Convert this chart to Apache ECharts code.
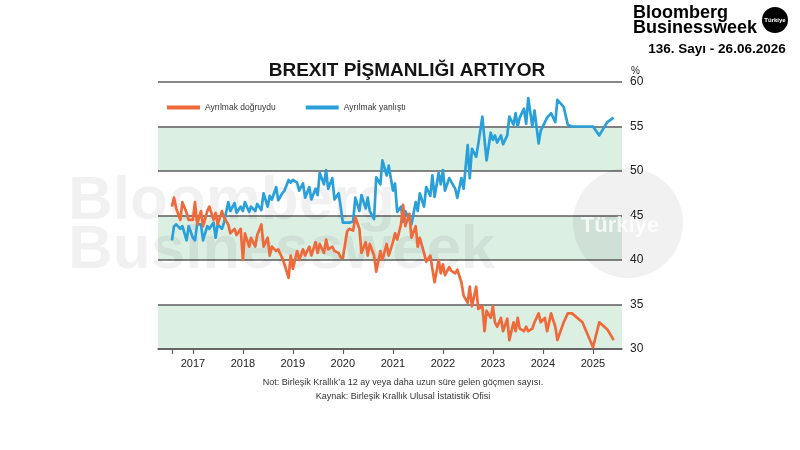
<!DOCTYPE html>
<html>
<head>
<meta charset="utf-8">
<script src="https://cdn.jsdelivr.net/npm/echarts@6/dist/echarts.min.js"></script>
<style>
html,body{margin:0;padding:0;background:#fff;}
#c{width:800px;height:450px;}
</style>
</head>
<body>
<div id="c"></div>
<script>
// ---- data ----
var dates = [
'2016-08-01','2016-08-16','2016-09-01','2016-10-01','2016-10-16','2016-11-16','2016-12-01',
'2017-01-01','2017-01-16','2017-02-01','2017-03-01','2017-03-16','2017-04-16','2017-05-01','2017-06-01','2017-06-16','2017-07-01','2017-08-01','2017-08-16','2017-09-16','2017-10-01','2017-11-01','2017-11-16','2017-12-16',
'2018-01-01','2018-01-16','2018-02-16','2018-03-01','2018-04-01','2018-04-16','2018-05-16','2018-06-01','2018-07-01','2018-07-16','2018-08-01','2018-09-01','2018-09-16','2018-10-16','2018-11-01','2018-12-01','2018-12-16',
'2019-01-01','2019-02-01','2019-02-16','2019-03-16','2019-04-01','2019-05-01','2019-05-16','2019-06-16','2019-07-01','2019-07-16','2019-08-16','2019-09-01','2019-09-16','2019-10-16','2019-11-01','2019-12-01','2019-12-16',
'2020-01-01','2020-02-01','2020-02-16','2020-03-16','2020-04-01','2020-05-01','2020-05-16','2020-06-16','2020-07-01','2020-07-16','2020-08-16','2020-09-01','2020-10-01','2020-10-16','2020-11-16','2020-12-01',
'2021-01-01','2021-01-16','2021-02-01','2021-03-01','2021-03-16','2021-04-01','2021-05-01','2021-05-16','2021-06-16','2021-07-01','2021-07-16','2021-08-16','2021-09-01','2021-10-01','2021-10-16','2021-11-01','2021-12-01','2021-12-16',
'2022-01-01','2022-01-16','2022-02-16','2022-03-01','2022-04-01','2022-04-16','2022-05-16','2022-06-01','2022-07-01','2022-07-16','2022-08-01','2022-09-01','2022-09-16','2022-10-16','2022-11-01','2022-11-16','2022-12-16',
'2023-01-01','2023-01-16','2023-02-01','2023-03-01','2023-03-16','2023-04-16','2023-05-01','2023-06-01','2023-06-16','2023-07-01','2023-07-16','2023-08-16','2023-09-01','2023-09-16','2023-10-16','2023-11-01','2023-12-01','2023-12-16',
'2024-01-16','2024-02-01','2024-03-01','2024-04-01','2024-04-16','2024-06-01','2024-07-01','2024-08-01','2024-10-16',
'2025-01-01','2025-02-16','2025-04-16','2025-06-01'
];
// "Ayrılmak doğruydu" (%)
var leaveRight = [
46.0,47.0,45.8,44.5,46.5,45.3,44.5,
44.5,46.5,44.0,45.5,43.8,45.5,46.0,44.5,45.3,44.0,45.5,44.8,44.0,43.0,43.5,42.8,43.5,
40.0,43.0,41.5,42.5,41.5,42.8,44.0,41.5,42.5,40.5,41.5,41.0,41.2,40.2,39.5,38.0,40.5,
39.0,41.0,40.0,41.2,40.5,41.5,40.5,42.0,40.8,41.8,40.8,42.3,41.2,41.5,41.0,40.8,40.3,
40.2,43.2,43.5,43.3,44.8,43.5,40.8,42.0,40.5,41.8,40.5,38.7,41.0,40.0,41.8,40.5,
42.0,43.0,42.3,44.0,46.2,43.8,45.2,42.5,43.8,41.5,42.5,40.8,39.8,40.5,39.0,37.5,40.0,38.5,
39.5,38.3,39.2,38.8,38.5,38.9,37.5,36.0,35.2,37.0,34.8,37.0,34.5,34.8,32.0,34.3,33.5,
34.8,33.0,32.5,33.5,32.0,33.4,31.0,33.0,32.0,33.5,32.3,32.0,32.5,32.0,32.3,33.0,34.0,33.0,
33.5,32.0,34.0,32.5,31.0,33.0,34.0,34.0,33.0,
30.2,33.0,32.2,31.0
];
// "Ayrılmak yanlıştı" (%)
var leaveWrong = [
42.2,43.8,44.0,43.5,43.8,42.2,43.8,
42.5,42.2,44.0,44.0,42.2,43.8,43.5,44.2,42.5,44.0,43.5,44.2,46.5,45.5,46.4,45.3,46.0,
45.5,46.5,45.4,46.0,45.5,46.3,45.6,47.5,46.0,47.2,46.8,48.2,46.7,47.5,47.8,49.0,48.7,
49.0,48.7,47.8,48.6,47.0,48.2,46.8,48.0,47.3,49.8,48.5,50.1,48.0,49.2,46.8,47.5,46.0,
44.2,44.2,44.2,44.3,47.0,45.5,47.3,45.8,47.0,45.5,44.6,49.3,48.5,51.2,49.5,50.6,
47.8,48.6,45.4,46.0,44.3,45.5,44.5,44.0,46.5,45.5,47.5,46.0,48.2,47.2,49.5,47.1,49.8,48.5,
50.1,47.8,49.2,49.2,48.0,47.0,49.2,48.0,52.9,49.2,52.5,51.6,53.0,56.1,53.5,51.2,54.3,
53.5,54.0,53.2,54.0,53.0,54.0,56.1,55.2,56.5,55.0,56.0,57.0,55.3,58.2,55.0,56.8,53.1,54.5,
55.5,56.0,56.5,55.5,58.0,57.2,55.2,55.0,55.0,
55.0,54.0,55.5,56.0
];
var seriesNames = ['Ayrılmak doğruydu', 'Ayrılmak yanlıştı'];
var tickDates = ['2016-08-01','2017-01-01','2018-01-01','2019-01-01','2020-01-01','2021-01-01','2022-01-01','2023-01-01','2024-01-01','2025-01-01'];
var labelDates = ['2017-01-01','2018-01-01','2019-01-01','2020-01-01','2021-01-01','2022-01-01','2023-01-01','2024-01-01','2025-01-01'];
var axisStart = '2016-04-21';
var axisEnd = '2025-08-01';

// ---- helpers ----
function ts(s) {
  var p = s.split('-');
  return new Date(+p[0], +p[1] - 1, +p[2]).getTime();
}
function pairs(vals) {
  return dates.map(function (d, i) { return [ts(d), vals[i]]; });
}

var FONT = '"Liberation Sans", Arial, Helvetica, sans-serif';
var ORANGE = '#ef6a3b';
var BLUE = '#2aa0da';
var GRIDC = '#5e5e5e';
var WM = 'rgba(0,0,0,0.055)';

var chart = echarts.init(document.getElementById('c'), null, {renderer: 'canvas'});
chart.setOption({
  backgroundColor: '#ffffff',
  animation: false,
  textStyle: {fontFamily: FONT},
  title: {
    text: 'BREXIT PİŞMANLIĞI ARTIYOR',
    left: 402, top: 56, textAlign: 'center',
    textStyle: {fontFamily: FONT, fontSize: 19, fontWeight: 'bold', color: '#141414'}
  },
  legend: {
    data: seriesNames,
    left: 162, top: 98,
    icon: 'rect', itemWidth: 33, itemHeight: 4, itemGap: 30,
    textStyle: {fontFamily: FONT, fontSize: 8.5, color: '#333'}
  },
  grid: {left: 158, right: 178, top: 82, bottom: 101, containLabel: false},
  xAxis: {
    type: 'value',
    min: ts(axisStart), max: ts(axisEnd),
    axisLine: {show: true, lineStyle: {color: GRIDC, width: 1.5}},
    axisTick: {show: true, length: 5, lineStyle: {color: GRIDC, width: 1.2},
      customValues: tickDates.map(ts)},
    axisLabel: {
      customValues: labelDates.map(ts),
      fontFamily: FONT, fontSize: 11, color: '#222', margin: 9,
      formatter: function (v) { return String(new Date(v).getFullYear()); }
    },
    splitLine: {show: false}
  },
  yAxis: {
    type: 'value', position: 'right',
    min: 30, max: 60, interval: 5,
    name: '%', nameLocation: 'end', nameGap: 6,
    nameTextStyle: {fontFamily: FONT, fontSize: 10, color: '#222', align: 'left', padding: [0, 0, 0, 9]},
    axisLine: {show: false}, axisTick: {show: false},
    axisLabel: {fontFamily: FONT, fontSize: 12, color: '#222', margin: 8},
    splitLine: {show: true, lineStyle: {color: GRIDC, width: 1.5}},
    splitArea: {show: true, areaStyle: {color: ['#dcefe3', '#ffffff']}}
  },
  series: [
    {
      name: seriesNames[1], type: 'line', data: pairs(leaveWrong),
      showSymbol: false, symbol: 'none', color: BLUE,
      lineStyle: {color: BLUE, width: 2.7, join: 'round'}, z: 3
    },
    {
      name: seriesNames[0], type: 'line', data: pairs(leaveRight),
      showSymbol: false, symbol: 'none', color: ORANGE,
      lineStyle: {color: ORANGE, width: 2.7, join: 'round'}, z: 4
    }
  ],
  graphic: [
    {type: 'text', z: 1, silent: true, style: {text: 'Bloomberg', x: 68, y: 202, font: 'bold 62px ' + FONT, fill: WM, textAlign: 'left', textVerticalAlign: 'middle'}},
    {type: 'text', z: 1, silent: true, style: {text: 'Businessweek', x: 68, y: 251, font: 'bold 62px ' + FONT, fill: WM, textAlign: 'left', textVerticalAlign: 'middle'}},
    {type: 'circle', z: 1, silent: true, shape: {cx: 628, cy: 223, r: 55}, style: {fill: WM}},
    {type: 'text', z: 1, silent: true, style: {text: 'Türkiye', x: 620, y: 226, font: 'bold 22px ' + FONT, fill: 'rgba(255,255,255,0.75)', textAlign: 'center', textVerticalAlign: 'middle'}},
    {type: 'text', style: {text: 'Bloomberg', x: 633, y: 13, font: 'bold 18px ' + FONT, fill: '#000', textAlign: 'left', textVerticalAlign: 'middle'}},
    {type: 'text', style: {text: 'Businessweek', x: 633, y: 28, font: 'bold 18px ' + FONT, fill: '#000', textAlign: 'left', textVerticalAlign: 'middle'}},
    {type: 'circle', shape: {cx: 775, cy: 20, r: 13}, style: {fill: '#000'}},
    {type: 'text', style: {text: 'Türkiye', x: 775, y: 20, font: 'bold 6px ' + FONT, fill: '#fff', textAlign: 'center', textVerticalAlign: 'middle'}},
    {type: 'text', style: {text: '136. Sayı - 26.06.2026', x: 717, y: 49, font: 'bold 13.5px ' + FONT, fill: '#000', textAlign: 'center', textVerticalAlign: 'middle'}},
    {type: 'text', style: {text: 'Not: Birleşik Krallık\u2019a 12 ay veya daha uzun süre gelen göçmen sayısı.', x: 403, y: 383, font: '9px ' + FONT, fill: '#333', textAlign: 'center', textVerticalAlign: 'middle'}},
    {type: 'text', style: {text: 'Kaynak: Birleşik Krallık Ulusal İstatistik Ofisi', x: 403, y: 397, font: '9px ' + FONT, fill: '#333', textAlign: 'center', textVerticalAlign: 'middle'}}
  ]
});
</script>
</body>
</html>
